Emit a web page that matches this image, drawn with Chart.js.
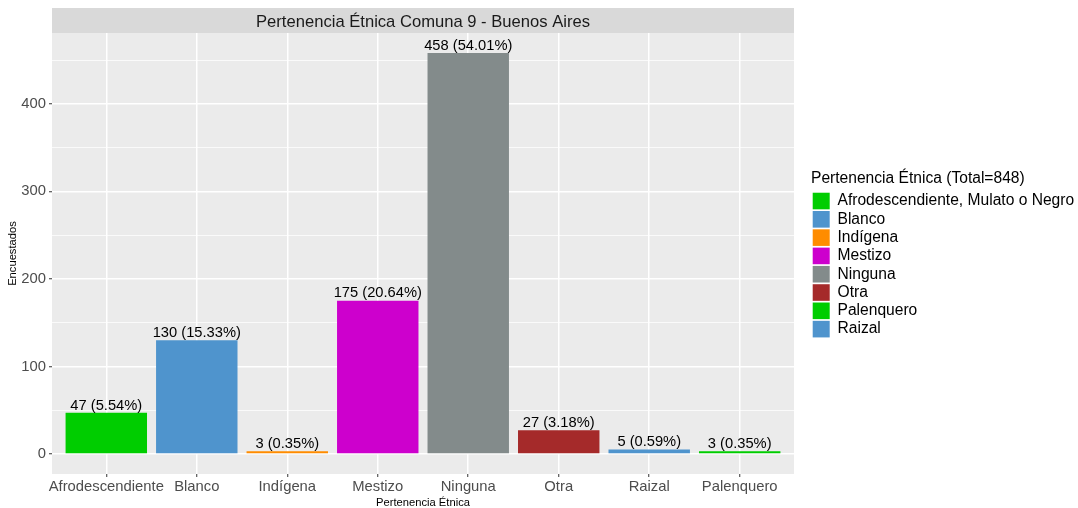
<!DOCTYPE html>
<html>
  <head>
    <meta charset="utf-8" />
    <title>Pertenencia Étnica Comuna 9 - Buenos Aires</title>
    <script src="https://cdn.jsdelivr.net/npm/chart.js"></script>
    <style>
      body {
        margin: 0;
        background: #ffffff;
      }
    </style>
  </head>
  <body>
    <canvas id="myChart" width="1078" height="508"></canvas>
    <script>
      // Datos
      const categories = ["Afrodescendiente", "Blanco", "Indígena", "Mestizo", "Ninguna", "Otra", "Raizal", "Palenquero"];
      const values = [47, 130, 3, 175, 458, 27, 5, 3];
      const barColors = ["#00CD00", "#4F94CD", "#FF8C00", "#CD00CD", "#838B8B", "#A52A2A", "#4F94CD", "#00CD00"];

      const legendLabels = ["Afrodescendiente, Mulato o Negro", "Blanco", "Indígena", "Mestizo", "Ninguna", "Otra", "Palenquero", "Raizal"];
      const legendColors = ["#00CD00", "#4F94CD", "#FF8C00", "#CD00CD", "#838B8B", "#A52A2A", "#00CD00", "#4F94CD"];

      const total = values.reduce((a, b) => a + b, 0);
      const FONT = "'Liberation Sans', Arial, sans-serif";

      // Fondo del panel y franja del título (estilo ggplot)
      const panelPlugin = {
        id: "panel",
        beforeDraw(chart) {
          const { ctx, chartArea } = chart;
          const tb = chart.titleBlock;
          ctx.save();
          ctx.fillStyle = "#EBEBEB";
          ctx.fillRect(chartArea.left, chartArea.top, chartArea.right - chartArea.left, chartArea.bottom - chartArea.top);
          ctx.fillStyle = "#D9D9D9";
          ctx.fillRect(chartArea.left, tb.top, chartArea.right - chartArea.left, chartArea.top - tb.top);
          ctx.restore();
        },
      };

      // Etiquetas encima de las barras
      const labelPlugin = {
        id: "barLabels",
        afterDatasetsDraw(chart) {
          const { ctx } = chart;
          const meta = chart.getDatasetMeta(0);
          ctx.save();
          ctx.font = "14.7px " + FONT;
          ctx.fillStyle = "#000000";
          ctx.textAlign = "center";
          ctx.textBaseline = "bottom";
          meta.data.forEach((bar, i) => {
            const pct = ((values[i] / total) * 100).toFixed(2);
            ctx.fillText(values[i] + " (" + pct + "%)", bar.x, bar.y);
          });
          ctx.restore();
        },
      };

      const ctx = document.getElementById("myChart").getContext("2d");
      const chart = new Chart(ctx, {
        type: "bar",
        data: {
          datasets: [
            {
              data: categories.map((c, i) => ({ x: i + 1, y: values[i] })),
              backgroundColor: barColors,
              borderWidth: 0,
              categoryPercentage: 0.9,
              barPercentage: 1.0,
            },
          ],
        },
        plugins: [panelPlugin, labelPlugin],
        options: {
          responsive: false,
          animation: false,
          devicePixelRatio: 1,
          layout: { padding: { top: 8, left: 0, right: 0, bottom: 0 } },
          scales: {
            x: {
              type: "linear",
              min: 0.4,
              max: 8.6,
              offset: false,
              afterBuildTicks: (axis) => {
                axis.ticks = categories.map((c, i) => ({ value: i + 1 }));
              },
              afterFit: (scale) => {
                scale.height = 34;
              },
              ticks: {
                autoSkip: false,
                maxRotation: 0,
                padding: 1.5,
                color: "#4D4D4D",
                font: { family: FONT, size: 14.8 },
                callback: (value, index) => categories[index],
              },
              grid: {
                offset: false,
                color: "#FFFFFF",
                lineWidth: 1.5,
                tickColor: "#333333",
                tickLength: 3,
                tickWidth: 1,
              },
              border: { display: false },
              title: {
                display: true,
                text: "Pertenencia Étnica",
                color: "#000000",
                font: { family: FONT, size: 11.2 },
                padding: { top: 0, bottom: -1.5 },
              },
            },
            y: {
              min: -22.9,
              max: 480.9,
              afterFit: (scale) => {
                scale.width = 52;
              },
              ticks: {
                stepSize: 50,
                includeBounds: false,
                padding: 3,
                color: "#4D4D4D",
                font: { family: FONT, size: 14.8 },
                callback: (value) => (value % 100 === 0 ? value : ""),
              },
              grid: {
                color: "#FFFFFF",
                lineWidth: (c) => (c.tick && c.tick.value % 100 === 0 ? 1.5 : 0.75),
                tickColor: (c) => (c.tick && c.tick.value % 100 === 0 ? "#333333" : "rgba(0,0,0,0)"),
                tickLength: 3,
                tickWidth: 1,
              },
              border: { display: false },
              title: {
                display: true,
                text: "Encuestados",
                color: "#000000",
                font: { family: FONT, size: 11.2 },
                padding: { top: 6, bottom: 0 },
              },
            },
            // espacio entre el panel y la leyenda
            gap: {
              type: "linear",
              position: "right",
              display: true,
              afterFit: (scale) => {
                scale.width = 17;
              },
              ticks: { display: false },
              grid: { display: false, drawTicks: false },
              border: { display: false },
            },
          },
          plugins: {
            title: {
              display: true,
              fullSize: false,
              text: "Pertenencia Étnica Comuna 9 - Buenos Aires",
              color: "#1A1A1A",
              font: { family: FONT, size: 16.6, weight: "normal" },
              padding: { top: 4, bottom: 1.1 },
            },
            legend: {
              position: "right",
              align: "start",
              maxWidth: 267,
              onClick: null,
              title: {
                display: true,
                text: "Pertenencia Étnica (Total=" + total + ")",
                color: "#000000",
                position: "start",
                font: { family: FONT, size: 15.6 },
                padding: { top: 162.7, bottom: 1.6 },
              },
              labels: {
                boxWidth: 17,
                boxHeight: 16.6,
                padding: 1.7,
                color: "#000000",
                font: { family: FONT, size: 15.6 },
                generateLabels: () =>
                  legendLabels.map((t, i) => ({
                    text: t,
                    fillStyle: legendColors[i],
                    strokeStyle: legendColors[i],
                    lineWidth: 0,
                    hidden: false,
                    index: i,
                  })),
              },
            },
            tooltip: { enabled: false },
          },
        },
      });
    </script>
  </body>
</html>
